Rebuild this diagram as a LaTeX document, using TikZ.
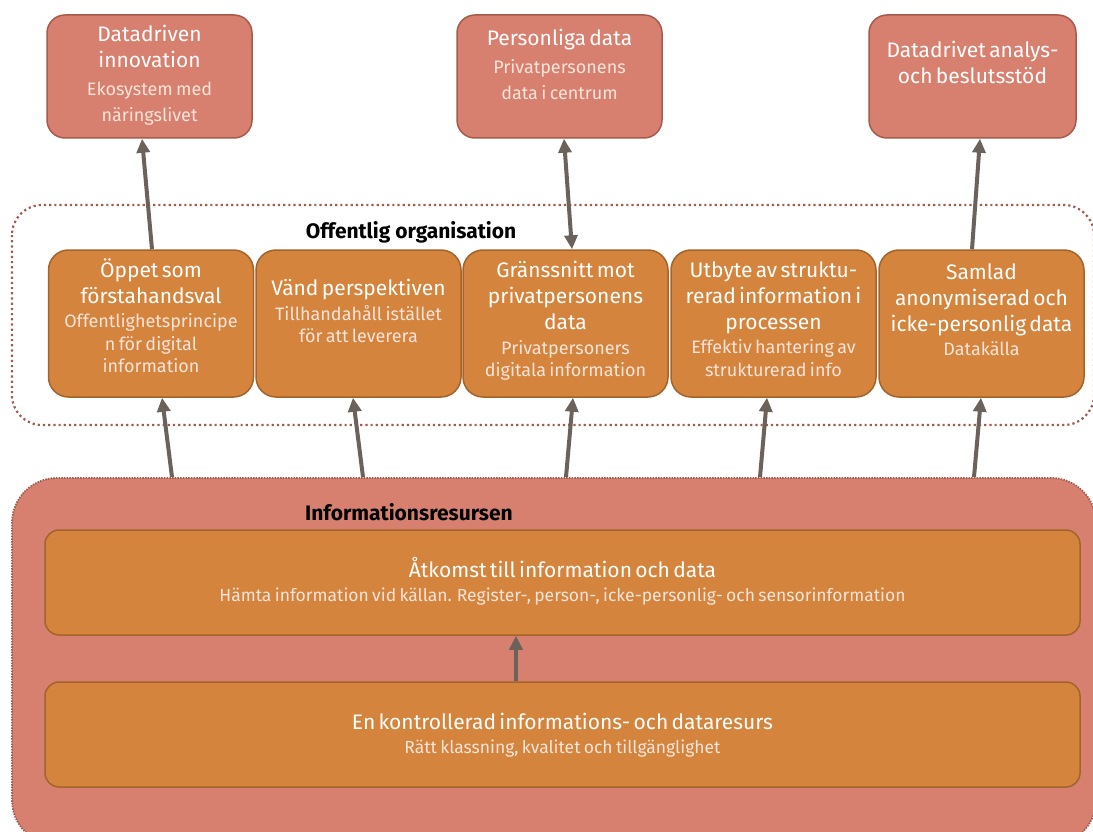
\documentclass[tikz,border=0pt]{standalone}
\usepackage{fontspec}
\setmainfont{Fira Sans}
\usetikzlibrary{positioning,arrows.meta,calc}

\definecolor{salmon}{HTML}{D8806F}
\definecolor{salmonline}{HTML}{A65A4A}
\definecolor{orangefill}{HTML}{D4843C}
\definecolor{orangeline}{HTML}{A3642C}
\definecolor{dotline}{HTML}{A05A4E}
\definecolor{linkgrey}{HTML}{6B625C}
\definecolor{subwhite}{HTML}{F8E4DA}

\newcommand{\ttl}{\fontsize{21}{26}\selectfont}
\newcommand{\subt}{\vskip 2pt\fontsize{18}{22.5}\selectfont\color{subwhite}}

\tikzset{
	topbox/.style={draw=salmonline,line width=1.5pt,fill=salmon,rounded corners=18pt,minimum width=205pt,minimum height=123pt},
	midbox/.style={draw=orangeline,line width=1.5pt,fill=orangefill,rounded corners=20pt,minimum width=205pt,minimum height=147pt},
	widebox/.style={draw=orangeline,line width=1.5pt,fill=orangefill,rounded corners=14pt,minimum width=1035pt,minimum height=105pt},
	boxtext/.style={text=white,align=center,inner sep=0pt,anchor=north,text width=204pt},
	link/.style={draw=linkgrey,line width=4pt,-{Triangle[length=14pt,width=13pt]}},
	grouplabel/.style={font=\bfseries\fontsize{21}{24}\selectfont}
}

\begin{document}
\begin{tikzpicture}[x=1pt,y=-1pt]
	\useasboundingbox (0,0) rectangle (1093,832);
	
	% frames
	\draw[dotline,line width=2.2pt,dash pattern=on 2.2pt off 3pt,rounded corners=30pt] (12,205) rectangle (1094,425);
	\node[grouplabel] (orglabel) at (411,232) {Offentlig organisation};
	\node[fill=salmon,draw=dotline,line width=1.8pt,dash pattern=on 1.5pt off 1.2pt,rounded corners=45pt,minimum width=1084pt,minimum height=367pt] (res) at (554,661.5) {};
	\node[grouplabel] (reslabel) at (409,512) {Informationsresursen};
	
	% top row
	\node[topbox] (top1) at (149.5,76.5) {};
	\node[topbox] (top2) at (559.5,76.5) {};
	\node[topbox,minimum width=207pt] (top3) at (972.5,76.5) {};
	\node[boxtext] (top1t) at ([yshift=-11pt]top1.north) {\ttl Datadriven\\innovation\par\subt\baselineskip=26pt Ekosystem med\\näringslivet\par};
	\node[boxtext] (top2t) at ([yshift=-15pt]top2.north) {\ttl Personliga data\par\subt\baselineskip=26pt Privatpersonens\\data i centrum\par};
	\node[boxtext] (top3t) at ([yshift=-27pt]top3.north) {\ttl Datadrivet analys-\\och beslutsstöd\par};
	
	% middle row
	\node[midbox] (mid1) at (151,323.5) {};
	\node[midbox] (mid2) at (358.5,323.5) {};
	\node[midbox] (mid3) at (565.5,323.5) {};
	\node[midbox] (mid4) at (773.5,323.5) {};
	\node[midbox] (mid5) at (981.5,323.5) {};
	\node[boxtext] (mid1t) at ([yshift=-9pt]mid1.north) {\ttl Öppet som\\förstahandsval\par\subt Offentlighetsprincipe\\n för digital\\information\par};
	\node[boxtext] (mid2t) at ([yshift=-30pt]mid2.north) {\ttl Vänd perspektiven\par\subt Tillhandahåll istället\\för att leverera\par};
	\node[boxtext] (mid3t) at ([yshift=-12pt]mid3.north) {\ttl Gränssnitt mot\\privatpersonens\\data\par\subt Privatpersoners\\digitala information\par};
	\node[boxtext] (mid4t) at ([yshift=-12pt]mid4.north) {\ttl Utbyte av struktu-\\rerad information i\\processen\par\subt Effektiv hantering av\\strukturerad info\par};
	\node[boxtext] (mid5t) at ([yshift=-14pt]mid5.north) {\ttl Samlad\\anonymiserad och\\icke-personlig data\par\subt Datakälla\par};
	
	% bottom boxes
	\node[widebox] (access) at (562.5,582.5) {};
	\node[widebox] (ctrl) at (562.5,734.5) {};
	\node[boxtext,text width=1000pt] (accesst) at ([yshift=-28pt]access.north) {\ttl Åtkomst till information och data\par\subt\fontsize{17.5}{22}\selectfont Hämta information vid källan. Register-, person-, icke-personlig- och sensorinformation\par};
	\node[boxtext,text width=1000pt] (ctrlt) at ([yshift=-32pt]ctrl.north) {\ttl En kontrollerad informations- och dataresurs\par\subt\fontsize{17.5}{22}\selectfont Rätt klassning, kvalitet och tillgänglighet\par};
	
	% arrows
	\draw[link] ([xshift=1pt]mid1.north) -- ([xshift=-7.5pt]top1.south);
	\draw[link,{Triangle[length=14pt,width=13pt]}-{Triangle[length=14pt,width=13pt]}] ([xshift=6.5pt]mid3.north) -- ([xshift=4.5pt]top2.south);
	\draw[link] ([xshift=-9.5pt]mid5.north) -- ([xshift=7.5pt]top3.south);
	\foreach \i/\a/\b in {1/21/11, 2/4.5/-5.5, 3/0.5/7.5, 4/-13.5/-6.5, 5/-7.5/-0.5}
		\draw[link] ([xshift=\a pt]res.north -| mid\i.south) -- ([xshift=\b pt]mid\i.south);
	\draw[link] ([xshift=-46.5pt]ctrl.north) -- ([xshift=-46.5pt]access.south);
	
\end{tikzpicture}
\end{document}
